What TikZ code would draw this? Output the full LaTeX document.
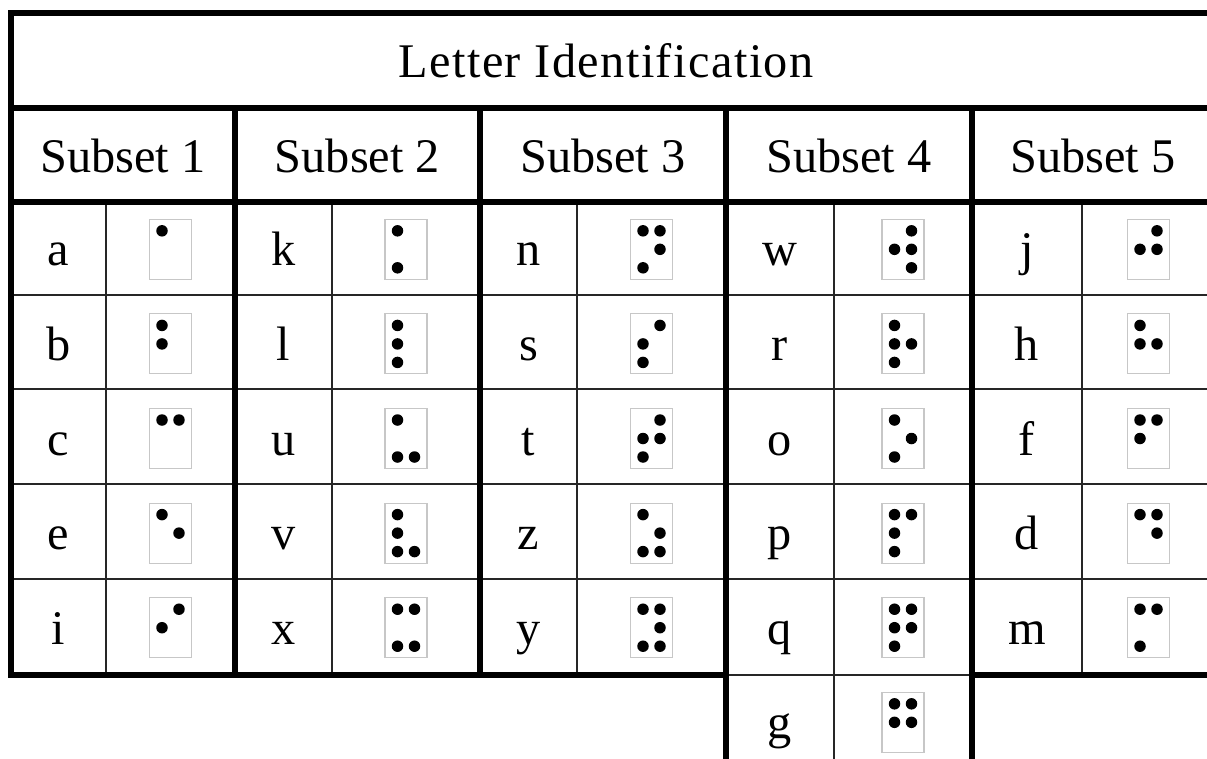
\documentclass[tikz,border=0pt]{standalone}
\usepackage{fontspec}
\setmainfont{Liberation Serif}
\begin{document}
\begin{tikzpicture}[x=0.02cm,y=-0.02cm,
  heavy/.style={line width=3.1pt},
  light/.style={line width=0.9pt, black!85},
  cellbox/.style={draw=black!22, line width=0.6pt, minimum width=0.84cm, minimum height=1.2cm, inner sep=0pt},
  txt/.style={font=\fontsize{27.5}{33}\selectfont, anchor=base, inner sep=0pt}]
\clip (0,0) rectangle (1207,758);
\fill[white] (0,0) rectangle (1207,758);
\def\subA{a/{1},b/{1,2},c/{1,4},e/{1,5},i/{2,4}}
\def\subB{k/{1,3},l/{1,2,3},u/{1,3,6},v/{1,2,3,6},x/{1,3,4,6}}
\def\subC{n/{1,3,4,5},s/{2,3,4},t/{2,3,4,5},z/{1,3,5,6},y/{1,3,4,5,6}}
\def\subD{w/{2,4,5,6},r/{1,2,3,5},o/{1,3,5},p/{1,2,3,4},q/{1,2,3,4,5},g/{1,2,4,5}}
\def\subE{j/{2,4,5},h/{1,2,5},f/{1,2,4},d/{1,4,5},m/{1,3,4}}

% thin rules
\foreach \y in {295,389,484,579} \draw[light] (11,\y) -- (1230,\y);
\draw[light] (726,675) -- (972,675);
\foreach \x/\b in {106/675,332/675,577/675,834/780,1082/675} \draw[light] (\x,202) -- (\x,\b);

% heavy rules
\draw[heavy] (1230,13) -- (11,13) -- (11,675) -- (726,675);
\draw[heavy] (972,675) -- (1230,675);
\foreach \y in {108,202} \draw[heavy] (11,\y) -- (1230,\y);
\foreach \x/\b in {235/675,480/675,726/780,972/780} \draw[heavy] (\x,108) -- (\x,\b);

\node[txt] (title) at (606,77.5) {\addfontfeature{LetterSpace=3}Letter Identification};

\foreach \lx/\bx/\hx/\A [count=\s] in {58.5/170.5/123/\subA, 283.5/406/357.5/\subB, 528.5/651.5/603/\subC, 780/903/849/\subD, 1027/1148.5/1093/\subE} {
    \node[txt] (head\s) at (\hx,172) {Subset \s};
    \edef\rowlist{\A}
    \foreach \l/\pins [count=\r] in \rowlist {
        \pgfmathsetmacro\yc{202+94.6*(\r-0.5)}
        \node[txt] (let\s\r) at (\lx,\yc+16.5) {\l};
        \node[cellbox] (cell\s\r) at (\bx,\yc) {};
        \foreach \d in \pins {
            \pgfmathsetmacro\dx{ifthenelse(\d>3,0.17,-0.17)}
            \pgfmathsetmacro\dy{(mod(\d-1,3)-1)*0.37}
            \fill ([shift={(\dx cm,-\dy cm)}]cell\s\r.center) circle[radius=0.115cm];
        }
    }
}
\end{tikzpicture}
\end{document}
